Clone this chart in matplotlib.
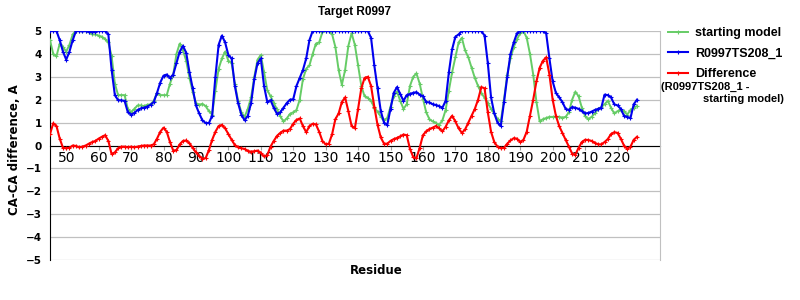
import numpy as np
import matplotlib
matplotlib.use('Agg')
import matplotlib.pyplot as plt
from matplotlib.font_manager import FontProperties

# residues 45..226
residues = np.arange(45, 227)

starting_model = [
    4.6, 4.0, 3.9, 4.45, 4.3, 4.1, 4.4, 4.85, 5, 5,
    5, 5, 4.95, 4.85, 4.85, 4.8, 4.75, 4.65, 4.5, 3.9,
    2.7, 2.2, 2.2, 2.2, 1.6, 1.45, 1.6, 1.75, 1.75, 1.72,
    1.78, 1.8, 1.95, 2.3, 2.2, 2.2, 2.2, 2.7, 3.1, 4.0,
    4.45, 4.15, 3.7, 2.95, 2.35, 1.85, 1.78, 1.82, 1.72, 1.5,
    1.35, 2.4, 3.35, 3.8, 4.1, 3.7, 3.6, 2.7, 1.95, 1.45,
    1.25, 1.6, 2.1, 3.0, 3.75, 3.95, 3.2, 2.42, 2.15, 1.85,
    1.58, 1.28, 1.05, 1.18, 1.38, 1.45, 1.55, 2.0, 2.9, 3.35,
    3.5, 4.0, 4.45, 4.5, 4.95, 5, 5, 4.85, 4.3, 3.3,
    2.65, 3.3, 4.35, 4.9, 4.4, 3.5, 2.6, 2.15, 2.08, 1.95,
    1.65, 1.48, 1.26, 1.1, 1.2, 1.7, 2.15, 2.35, 1.95, 1.6,
    1.8, 2.6, 3.0, 3.15, 2.7, 2.05, 1.45, 1.15, 1.05, 0.98,
    0.9, 1.1, 1.55, 2.4, 3.2, 3.85, 4.5, 4.7, 4.15, 3.85,
    3.4, 2.95, 2.6, 2.3, 2.08, 1.85, 1.6, 1.4, 1.15, 1.05,
    2.0, 3.1, 3.8, 4.3, 4.65, 4.9, 5, 4.7, 4.0, 3.1,
    1.9, 1.05, 1.15, 1.2, 1.25, 1.25, 1.25, 1.25, 1.22, 1.25,
    1.45, 2.0, 2.35, 2.15, 1.65, 1.28, 1.15, 1.25, 1.4, 1.58,
    1.68, 1.8, 1.95, 1.65, 1.4, 1.5, 1.55, 1.5, 1.35, 1.55,
    1.65, 1.72,
]

model_208 = [
    5, 5, 5, 4.6, 4.1, 3.75, 4.1, 4.6, 5, 5,
    4.98, 5, 4.97, 4.95, 4.97, 5, 5, 5, 4.85, 3.3,
    2.2, 1.98, 1.97, 1.95, 1.45, 1.35, 1.42, 1.55, 1.62, 1.65,
    1.7, 1.78, 1.9, 2.3, 2.75, 3.05, 3.1, 2.95, 3.1, 3.6,
    4.1, 4.35, 4.05, 3.2, 2.5, 1.75, 1.4, 1.1, 0.98, 0.98,
    1.3, 3.0, 4.4, 4.8, 4.5, 3.95, 3.8, 2.6, 1.85, 1.35,
    1.1, 1.3, 1.85, 2.9, 3.6, 3.8, 2.6, 1.9, 1.98, 1.65,
    1.38, 1.45, 1.65, 1.85, 2.0, 2.02, 2.6, 2.95, 3.3, 3.8,
    4.6, 5, 5, 5, 5, 5, 5, 5, 5, 5,
    5, 5, 5, 5, 5, 5, 5, 5, 5, 4.7,
    3.5, 2.5, 1.5, 1.0, 0.9, 1.6, 2.3, 2.55, 2.25, 1.95,
    2.2, 2.25, 2.3, 2.33, 2.22, 2.15, 1.9, 1.88, 1.8, 1.77,
    1.72, 1.65, 1.95, 3.2, 4.2, 4.75, 4.85, 5, 5, 5,
    5, 5, 5, 5, 4.8, 3.6, 2.1, 1.4, 1.0, 0.85,
    1.9, 3.0, 4.0, 4.5, 4.9, 5, 5, 5, 5, 5,
    5, 5, 5, 4.9, 3.8, 2.8, 2.3, 2.1, 1.9, 1.6,
    1.55, 1.68, 1.65, 1.6, 1.5, 1.4, 1.42, 1.48, 1.55, 1.6,
    1.65, 2.22, 2.2, 2.1, 1.8, 1.75, 1.6, 1.3, 1.25, 1.2,
    1.8, 2.0,
]

difference = [
    0.5, 0.97, 0.85, 0.3, -0.1, -0.12, -0.1, 0.0, -0.02, -0.08,
    -0.05, 0.0, 0.08, 0.15, 0.2, 0.3, 0.38, 0.45, 0.2, -0.38,
    -0.3, -0.12, -0.05, -0.05, -0.08, -0.05, -0.08, -0.05, -0.02, 0.0,
    0.0, 0.0, 0.05, 0.3, 0.6, 0.78, 0.6, 0.15, -0.22, -0.2,
    0.05, 0.2, 0.22, 0.1, -0.1, -0.3, -0.45, -0.58, -0.55, -0.2,
    0.25, 0.6, 0.85, 0.9, 0.75, 0.5, 0.25, 0.02, -0.08, -0.12,
    -0.15, -0.24, -0.27, -0.25, -0.22, -0.32, -0.48, -0.42, -0.05, 0.2,
    0.42, 0.55, 0.65, 0.65, 0.72, 0.95, 1.12, 1.18, 0.85, 0.58,
    0.85, 0.95, 0.92, 0.6, 0.2, 0.05, 0.08, 0.5, 1.15, 1.4,
    1.9, 2.1, 1.5, 0.85, 0.75, 1.6, 2.5, 2.95, 3.0, 2.6,
    1.7, 0.9, 0.35, 0.08, 0.08, 0.2, 0.28, 0.33, 0.4, 0.48,
    0.45, -0.15, -0.5, -0.55, -0.1, 0.45, 0.62, 0.72, 0.78, 0.85,
    0.75, 0.62, 0.82, 1.1, 1.3, 1.05, 0.75, 0.55, 0.7, 1.0,
    1.3, 1.6, 2.0, 2.55, 2.5, 1.45, 0.6, 0.15, -0.05, -0.12,
    -0.1, 0.08, 0.22, 0.32, 0.3, 0.15, 0.25, 0.6, 1.3, 2.0,
    2.8, 3.4, 3.7, 3.85, 3.1, 2.0, 1.3, 0.85, 0.55, 0.25,
    -0.05, -0.35, -0.4, -0.1, 0.15, 0.25, 0.24, 0.2, 0.12, 0.05,
    0.05, 0.15, 0.28, 0.5, 0.58, 0.55, 0.3, 0.0, -0.15, -0.05,
    0.25, 0.38,
]

x_ticks = list(range(50, 230, 10))
y_ticks = list(range(-5, 6))

tick_font = FontProperties(family='DejaVu Sans', weight='bold', size=7.5)
arial_b = 'Liberation Sans'

fig = plt.figure(figsize=(8, 3), dpi=100)
ax = fig.add_axes([50 / 800, 40 / 300, 610 / 800, 229 / 300])

# 线条 (绿色在下, 蓝色在上, 红色最上)
l_green, = ax.plot(residues, starting_model, color='#66cc66', lw=1.4,
                   marker='+', ms=3, mew=0.8, zorder=3)
l_blue, = ax.plot(residues, model_208, color='#0000ee', lw=1.5,
                  marker='+', ms=3, mew=0.8, zorder=4)
l_red, = ax.plot(residues, difference, color='#ff0000', lw=1.5,
                 marker='+', ms=3, mew=0.8, zorder=5)

ax.set_xlim(45, 233.1)
ax.set_ylim(-5, 5)
ax.set_xticks(x_ticks)
ax.set_yticks(y_ticks)
ax.set_yticklabels([str(v).replace('-', '\u2212') for v in y_ticks])
for lab in ax.get_xticklabels() + ax.get_yticklabels():
    lab.set_fontproperties(tick_font)

ax.grid(axis='y', color='#c0c0c0', lw=0.9, zorder=0)
ax.set_axisbelow(True)
ax.spines['top'].set_visible(False)
ax.spines['right'].set_color('#c0c0c0')
ax.spines['left'].set_color('black')
ax.spines['bottom'].set_position(('data', 0))
ax.spines['bottom'].set_color('black')
ax.spines['bottom'].set_zorder(2)
ax.tick_params(axis='x', length=3, color='#a0a0a0', pad=1)
ax.tick_params(axis='y', length=0, pad=6)

fig.text(355 / 800, 1 - 12 / 300, 'Target R0997', ha='center', va='center',
         family=arial_b, weight='bold', fontsize=8.5)
fig.text(15 / 800, 0.5, 'CA-CA difference, A', rotation=90, ha='center',
         va='center', family='DejaVu Sans', weight='bold', fontsize=8.5)
fig.text(376 / 800, 1 - 270 / 300, 'Residue', ha='center', va='center',
         family='DejaVu Sans', weight='bold', fontsize=8.5)

leg = ax.legend([l_green, l_blue, l_red],
                ['starting model', 'R0997TS208_1', 'Difference'],
                loc='upper left', bbox_to_anchor=(668 / 800, 1 - 27 / 300),
                bbox_transform=fig.transFigure, frameon=False,
                prop=FontProperties(family=arial_b, weight='bold', size=9),
                handlelength=1.6, handletextpad=0.55, labelspacing=0.68,
                borderaxespad=0, borderpad=0)
fig.text(661 / 800, 1 - 87 / 300, '(R0997TS208_1 -', ha='left', va='center',
         family=arial_b, weight='bold', fontsize=8)
fig.text(703 / 800, 1 - 99 / 300, 'starting model)', ha='left', va='center',
         family=arial_b, weight='bold', fontsize=8)

fig.savefig('out.png', dpi=100)
